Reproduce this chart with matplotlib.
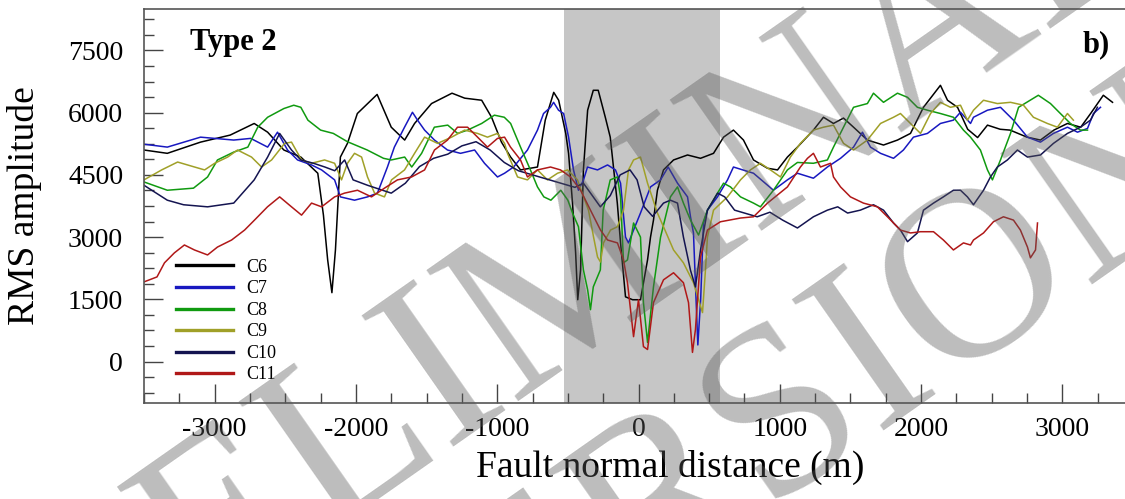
import matplotlib
matplotlib.use("Agg")
import matplotlib.pyplot as plt
from matplotlib.ticker import MultipleLocator

plt.rcParams['font.family'] = ['Liberation Serif', 'DejaVu Serif']
plt.rcParams['axes.unicode_minus'] = False

# RMS amplitude profiles (x: fault normal distance in m)
c6_x = [-3500, -3335, -3100, -2890, -2720, -2625, -2510, -2390, -2270, -2230, -2200, -2170, -2145, -2110, -2060, -1990, -1850, -1750, -1655, -1585, -1465, -1320, -1230, -1110, -1040, -970, -905, -835, -715, -695, -660, -600, -565, -515, -495, -467, -445, -430, -410, -390, -360, -320, -285, -235, -200, -175, -150, -127, -92, -42, 14, 64, 85, 106, 134, 177, 248, 347, 439, 531, 602, 672, 743, 814, 913, 984, 1054, 1125, 1238, 1309, 1380, 1451, 1522, 1620, 1734, 1833, 1925, 2017, 2137, 2187, 2258, 2330, 2400, 2470, 2560, 2630, 2750, 2845, 2940, 3036, 3130, 3200, 3290, 3355]
c6_y = [5100, 5020, 5290, 5460, 5740, 5530, 5100, 4930, 4540, 3530, 2450, 1660, 2690, 4930, 5260, 5980, 6440, 5650, 5340, 5740, 6220, 6470, 6350, 6300, 5890, 5290, 4930, 4620, 4690, 5100, 5820, 6490, 6300, 5500, 5020, 3820, 2620, 1490, 2210, 4620, 6060, 6540, 6540, 5890, 5410, 4620, 3820, 2860, 1560, 1490, 1490, 2450, 3000, 3410, 4130, 4620, 4860, 4980, 4900, 5020, 5410, 5580, 5340, 4860, 4660, 4620, 4930, 5170, 5580, 5890, 5740, 5870, 5650, 5340, 5220, 5340, 5500, 6130, 6660, 6300, 6130, 5600, 5400, 5700, 5600, 5580, 5410, 5340, 5580, 5740, 5650, 5980, 6420, 6250]

c7_x = [-3500, -3335, -3100, -2865, -2745, -2625, -2555, -2484, -2413, -2314, -2243, -2151, -2110, -2010, -1918, -1848, -1777, -1728, -1656, -1600, -1564, -1514, -1444, -1352, -1260, -1160, -1090, -998, -948, -884, -786, -715, -672, -623, -601, -566, -530, -495, -460, -425, -389, -361, -290, -219, -163, -127, -92, -71, -35, 14, 85, 156, 210, 276, 347, 368, 389, 405, 420, 440, 460, 488, 559, 630, 672, 814, 955, 1054, 1125, 1238, 1337, 1430, 1522, 1585, 1642, 1713, 1805, 1875, 1946, 2045, 2137, 2229, 2279, 2350, 2371, 2470, 2562, 2654, 2753, 2845, 2937, 3036, 3107, 3178, 3220, 3270]
c7_y = [5240, 5170, 5410, 5340, 5380, 5170, 5530, 5100, 4860, 4740, 4620, 4380, 3970, 3890, 3970, 4060, 4690, 5170, 5650, 6010, 5820, 5580, 5340, 5100, 5020, 5100, 4780, 4450, 4540, 4690, 5100, 5580, 5980, 6130, 6250, 6060, 5980, 5410, 4620, 4130, 4380, 4690, 4620, 4740, 4620, 4300, 3000, 2860, 3170, 3580, 4210, 4380, 4690, 4300, 3970, 3490, 3100, 1700, 400, 1500, 3340, 3650, 3970, 4380, 4690, 4540, 4130, 4380, 4540, 4420, 4690, 4900, 5170, 5530, 5170, 5020, 4900, 5100, 5410, 5500, 5740, 5820, 6010, 5740, 5890, 6060, 6130, 5820, 5410, 5290, 5500, 5650, 5530, 5620, 5980, 6130]

c8_x = [-3500, -3335, -3150, -3050, -2980, -2865, -2765, -2695, -2625, -2510, -2440, -2390, -2340, -2250, -2160, -2060, -1920, -1805, -1750, -1655, -1605, -1535, -1445, -1350, -1280, -1210, -1110, -1020, -950, -905, -835, -765, -715, -670, -620, -550, -500, -467, -425, -390, -360, -340, -320, -270, -250, -200, -150, -127, -106, -78, -35, 14, 35, 64, 106, 156, 226, 276, 318, 368, 425, 488, 559, 602, 651, 722, 814, 863, 955, 1054, 1125, 1238, 1337, 1380, 1451, 1522, 1620, 1663, 1734, 1833, 1904, 1974, 2045, 2137, 2229, 2300, 2350, 2420, 2470, 2505, 2562, 2633, 2690, 2830, 2916, 2986, 3057, 3128, 3178]
c8_y = [4330, 4130, 4180, 4450, 4860, 5050, 5170, 5650, 5890, 6100, 6180, 6130, 5820, 5580, 5500, 5300, 5100, 4900, 4860, 4930, 4690, 5020, 5650, 5700, 5500, 5580, 5740, 5940, 5890, 5740, 5170, 4620, 4210, 3970, 3890, 4130, 3890, 3580, 3250, 2210, 1730, 1250, 1800, 2210, 3650, 4380, 4450, 3970, 2380, 2450, 3340, 3000, 1420, 460, 1800, 3000, 3970, 4210, 3820, 3410, 3050, 3650, 4060, 4300, 4210, 3970, 3820, 3730, 4130, 4620, 4800, 4780, 4860, 5170, 5650, 6130, 6220, 6470, 6250, 6470, 6370, 6130, 6060, 5980, 5890, 5580, 5410, 5100, 4620, 4380, 4860, 5500, 6130, 6420, 6220, 5980, 5740, 5580, 5580]

c9_x = [-3500, -3375, -3262, -3142, -3071, -3000, -2908, -2838, -2739, -2668, -2597, -2505, -2456, -2385, -2314, -2222, -2151, -2102, -2060, -2010, -1960, -1918, -1868, -1798, -1748, -1656, -1585, -1514, -1422, -1323, -1231, -1139, -1069, -998, -948, -927, -856, -786, -715, -644, -573, -502, -432, -389, -354, -318, -290, -269, -248, -198, -149, -106, -71, -35, 14, 64, 134, 177, 248, 318, 389, 453, 474, 488, 531, 630, 722, 792, 863, 934, 1005, 1075, 1146, 1238, 1309, 1380, 1451, 1522, 1620, 1713, 1805, 1854, 1925, 1996, 2067, 2137, 2208, 2279, 2328, 2371, 2442, 2540, 2633, 2725, 2795, 2894, 2965, 3036, 3078]
c9_y = [4380, 4620, 4810, 4690, 4620, 4780, 4930, 5100, 4930, 4690, 4860, 5260, 5290, 4860, 4780, 4860, 4780, 4380, 4780, 5020, 4930, 4450, 4060, 3970, 4380, 4620, 5020, 5410, 5260, 5410, 5580, 5500, 5410, 5500, 5260, 5020, 4450, 4380, 4620, 4380, 4540, 4620, 4380, 3970, 3650, 3000, 2520, 2400, 2860, 3170, 3250, 3650, 4620, 4860, 4930, 4300, 3580, 3250, 2690, 2380, 1900, 1180, 2210, 3000, 3650, 3970, 4380, 4620, 4780, 4620, 4450, 4930, 5260, 5580, 5650, 5700, 5260, 5100, 5340, 5740, 5890, 5980, 5740, 5500, 5980, 6250, 6130, 6180, 5820, 6060, 6300, 6220, 6250, 6180, 5890, 5740, 5650, 5980, 5820]

c10_x = [-3500, -3335, -3220, -3050, -2865, -2720, -2625, -2540, -2456, -2390, -2300, -2220, -2150, -2080, -2020, -1918, -1750, -1650, -1550, -1450, -1350, -1250, -1150, -1050, -950, -850, -750, -650, -550, -450, -390, -270, -200, -130, -60, -10, 40, 100, 177, 226, 276, 318, 368, 403, 439, 488, 560, 610, 680, 840, 930, 1020, 1125, 1238, 1337, 1410, 1480, 1570, 1663, 1734, 1805, 1854, 1904, 1974, 2017, 2088, 2158, 2229, 2279, 2328, 2371, 2442, 2491, 2540, 2611, 2682, 2753, 2845, 2937, 3036, 3128, 3199, 3248]
c10_y = [4250, 3890, 3780, 3730, 3820, 4380, 4930, 5500, 5100, 4860, 4780, 4690, 4600, 4860, 4380, 4250, 4060, 4300, 4700, 4900, 5000, 5200, 5300, 5100, 4800, 4600, 4500, 4400, 4300, 4200, 4300, 3730, 4000, 4500, 4620, 4380, 3730, 3500, 3820, 3890, 3820, 3000, 2200, 1800, 2690, 3650, 4060, 3970, 3650, 3490, 3600, 3410, 3220, 3490, 3650, 3730, 3580, 3650, 3780, 3650, 3340, 3170, 2890, 3100, 3650, 3820, 3970, 4130, 4130, 3970, 3780, 4130, 4450, 4690, 4860, 5100, 4930, 4980, 5260, 5500, 5650, 5820, 6130]

c11_x = [-3500, -3408, -3355, -3285, -3214, -3143, -3050, -2980, -2880, -2788, -2718, -2626, -2540, -2456, -2385, -2314, -2243, -2151, -2081, -1989, -1890, -1798, -1706, -1606, -1514, -1444, -1352, -1281, -1210, -1139, -1069, -998, -948, -906, -835, -786, -715, -623, -552, -481, -410, -340, -269, -219, -149, -106, -78, -35, 0, 35, 64, 106, 177, 248, 318, 354, 382, 403, 439, 488, 580, 722, 814, 913, 1054, 1146, 1196, 1238, 1288, 1359, 1380, 1430, 1500, 1592, 1691, 1762, 1854, 1925, 1996, 2088, 2158, 2229, 2300, 2350, 2371, 2442, 2512, 2583, 2654, 2703, 2753, 2774, 2810, 2824]
c11_y = [1920, 2040, 2380, 2620, 2810, 2690, 2570, 2760, 2930, 3170, 3410, 3730, 3970, 3730, 3530, 3820, 3730, 3970, 4060, 4130, 3970, 4180, 4380, 4450, 4620, 5100, 5340, 5650, 5650, 5410, 5170, 5380, 5410, 5170, 4860, 4450, 4620, 4690, 4620, 4450, 4130, 3650, 3170, 2930, 2860, 2450, 1900, 600, 1490, 360, 290, 1420, 1970, 2140, 1900, 1420, 220, 770, 2520, 3170, 3370, 3460, 3490, 3820, 4210, 4690, 4900, 5020, 4690, 4780, 4450, 4210, 3970, 3820, 3730, 3490, 3170, 3100, 3130, 3130, 2930, 2690, 2860, 2810, 2930, 3100, 3370, 3490, 3410, 3170, 2760, 2500, 2690, 3340]

series_names = ['C6', 'C7', 'C8', 'C9', 'C10', 'C11']
series_x = [c6_x, c7_x, c8_x, c9_x, c10_x, c11_x]
series_y = [c6_y, c7_y, c8_y, c9_y, c10_y, c11_y]
series_colors = ['#000000', '#1818c0', '#109a10', '#a0a028', '#141450', '#b01818']

fault_zone = (-530, 580)

fig = plt.figure(figsize=(11.25, 4.99), dpi=100)
ax = fig.add_axes([144/1125, 1 - 403/499, 989/1125, 394/499])

ax.axvspan(fault_zone[0], fault_zone[1], color='#c6c6c6', lw=0, zorder=0)

for name, xs, ys, col in zip(series_names, series_x, series_y, series_colors):
    ax.plot(xs, ys, color=col, lw=1.1, label=name, zorder=2)

ax.set_xlim(-3500, 3500)
ax.set_ylim(-1000, 8500)
ax.xaxis.set_major_locator(MultipleLocator(1000))
ax.xaxis.set_minor_locator(MultipleLocator(250))
ax.yaxis.set_major_locator(MultipleLocator(1500))
ax.yaxis.set_minor_locator(MultipleLocator(375))
ax.tick_params(which='both', direction='in', top=False, right=False,
               color='#444444', width=1)
ax.tick_params(which='major', length=14, labelsize=20)
ax.tick_params(axis='y', which='major', pad=15)
ax.tick_params(axis='x', which='major', pad=10)
ax.tick_params(which='minor', length=7)

for s in ['left', 'bottom', 'top']:
    ax.spines[s].set_color('#555555')
    ax.spines[s].set_linewidth(1.2)
ax.spines['right'].set_visible(False)

ax.set_xlabel('Fault normal distance (m)', fontsize=27)
ax.set_ylabel('RMS amplitude', fontsize=27)
ax.xaxis.set_label_coords(0.532, -0.118)
ax.yaxis.set_label_coords(-0.103, 0.5)

ax.text(0.0465, 0.916, 'Type 2', transform=ax.transAxes, fontsize=22,
        fontweight='bold', va='center', ha='left')
ax.text(0.977, 0.909, 'b)', transform=ax.transAxes, fontsize=22,
        fontweight='bold', va='center', ha='right')

leg = ax.legend(loc='upper left', bbox_to_anchor=(0.032, 0.366), frameon=False,
                fontsize=13, handlelength=3.2, handletextpad=0.7,
                labelspacing=0.25, borderpad=0, borderaxespad=0)
for h in leg.legend_handles:
    h.set_linewidth(2.4)

# watermark
wm = dict(fontsize=175, color='#5a5a5a', alpha=0.4, rotation=35,
          ha='center', va='center', zorder=10)
fig.text(600/1125, 1 - 268/499, 'PRELIMINARY', **wm)
fig.text(765/1125, 1 - 440/499, 'VERSION', **wm)

fig.savefig('out.png', dpi=100)
